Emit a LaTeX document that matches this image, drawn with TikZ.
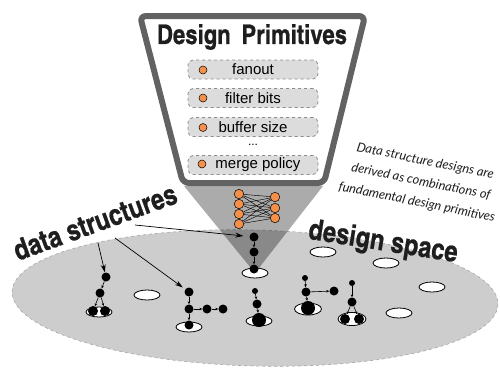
\documentclass[tikz,border=0pt]{standalone}
\usepackage{fontspec}
\setmainfont{Liberation Sans}
\newfontfamily\condbold{texgyreheroscn-bold.otf}[FakeBold=0.7]
\newfontfamily\handfont{Lato}
\usetikzlibrary{arrows.meta,shapes.geometric}
\definecolor{funnelgray}{HTML}{626262}
\definecolor{boxfill}{HTML}{DCDCDC}
\definecolor{boxline}{HTML}{8C8C8C}
\definecolor{orangec}{HTML}{F5904A}
\definecolor{spacefill}{HTML}{CDCDCD}
\definecolor{textdark}{HTML}{1E1E1E}
\begin{document}
\begin{tikzpicture}[x=1pt,y=-1pt,
  dsnode/.style={circle,fill=black,inner sep=0pt,minimum size=9pt},
  smallnode/.style={circle,fill=black,inner sep=0pt,minimum size=6pt},
  bignode/.style={circle,fill=black,inner sep=0pt,minimum size=14pt},
  hole/.style={ellipse,draw=black,fill=white,line width=0.8pt,inner sep=0pt,minimum width=26pt,minimum height=10pt},
  onode/.style={circle,draw=black,fill=orangec,line width=0.5pt,inner sep=0pt,minimum size=9.5pt},
  primbox/.style={draw=boxline,dashed,fill=boxfill,rounded corners=5pt,line width=0.8pt,minimum width=130pt,minimum height=19pt,inner sep=0pt},
  primtext/.style={font=\fontsize{15}{17}\selectfont,text=black,inner sep=0pt},
  bigtitle/.style={font=\condbold\fontsize{29}{32}\selectfont,text=textdark,inner sep=0pt},
  conn/.style={-{Stealth[length=3pt,width=2.6pt]},line width=0.6pt},
  bigarrow/.style={-{Stealth[length=8pt,width=5pt]},line width=0.7pt},
  nnedge/.style={line width=0.45pt}]
\useasboundingbox (0,0) rectangle (500,368);

% design space
\draw[dashed,draw=black!35,fill=spacefill,line width=0.6pt,rotate around={-1.5:(255,298)}] (255,298) ellipse[x radius=243, y radius=68];

% cone
\fill[black,opacity=0.33] (184,186) -- (323,186) -- (255,273) -- cycle;

% funnel
\draw[draw=funnelgray,fill=white,line width=6pt,rounded corners=6pt] (140,16) -- (365,16) -- (324,183) -- (183,183) -- cycle;

\node[font=\condbold\fontsize{27}{30}\selectfont,text=textdark,inner sep=0pt] (title) at (252,37) {Design\, Primitives};

\node[primbox] (b1) at (253,69.5) {};
\node[primbox] (b2) at (253,98) {};
\node[primbox] (b3) at (253,127) {};
\node[primbox] (b4) at (253,165) {};
\node[onode,minimum size=8pt] (o1) at (203,70) {};
\node[onode,minimum size=8pt] (o2) at (203,98) {};
\node[onode,minimum size=8pt] (o3) at (203,127.5) {};
\node[onode,minimum size=8pt] (o4) at (202,164) {};
\node[primtext] (t1) at (253,69.5) {fanout};
\node[primtext] (t2) at (253,98) {filter bits};
\node[primtext] (t3) at (253,127) {buffer size};
\node[primtext] (t4) at (258,165) {merge policy};
\node[font=\fontsize{12}{12}\selectfont,inner sep=0pt] (dots) at (253,145) {...};

% neural net
\node[onode] (l1) at (239,194) {};
\node[onode] (l2) at (239,204) {};
\node[onode] (l3) at (239,214) {};
\node[onode] (l4) at (239,224) {};
\node[onode] (r1) at (275,197) {};
\node[onode] (r2) at (275,208) {};
\node[onode] (r3) at (275,218) {};
\foreach \l in {l1,l2,l3,l4}{\foreach \r in {r1,r2,r3}{\draw[nnedge] (\l) -- (\r);}}

% free design points
\node[hole] (h1) at (147,295) {};
\node[hole] (h2) at (323,252) {};
\node[hole] (h3) at (386,263) {};
\node[hole] (h4) at (432,287) {};
\node[hole] (h5) at (399,313) {};

% base ellipses
\node[hole] (e0) at (255,273) {};
\node[hole] (e1) at (99,312) {};
\node[hole] (e2) at (189,327) {};
\node[hole] (e3) at (259,321) {};
\node[hole,minimum width=27pt,minimum height=12pt] (e4) at (308,309) {};
\node[hole,minimum width=28pt,minimum height=13pt] (e5) at (352,319) {};

% cone structure
\node[dsnode] (c1) at (254,237) {};
\node[dsnode] (c2) at (254,252) {};
\node[dsnode] (c3) at (254,269) {};
\draw[conn] (c1) -- (c2);
\draw[conn] (c2) -- (c3);

% structure 1
\node[dsnode] (s1a) at (106,277) {};
\node[dsnode] (s1b) at (100,293) {};
\node[dsnode,minimum size=10pt] (s1c) at (93,311) {};
\node[dsnode,minimum size=10pt] (s1d) at (105,311) {};
\draw[conn] (s1a) -- (s1b);
\draw[conn] (s1b) -- (s1c);
\draw[conn] (s1b) -- (s1d);

% structure 2
\node[dsnode] (s2a) at (189,292) {};
\node[dsnode] (s2b) at (189,309) {};
\node[dsnode] (s2c) at (207,309) {};
\node[dsnode] (s2d) at (223,309) {};
\node[dsnode] (s2e) at (189,325) {};
\draw[conn] (s2a) -- (s2b);
\draw[conn] (s2b) -- (s2c);
\draw[conn] (s2c) -- (s2d);
\draw[conn] (s2b) -- (s2e);

% structure 3
\node[smallnode] (s3a) at (255,291) {};
\node[dsnode] (s3b) at (257,304) {};
\node[bignode] (s3c) at (259,320) {};
\draw[conn] (s3a) -- (s3b);
\draw[conn] (s3b) -- (s3c);

% structure 4
\node[smallnode] (s4a) at (305,278) {};
\node[dsnode] (s4b) at (306,292) {};
\node[dsnode] (s4c) at (334,291) {};
\node[bignode] (s4d) at (308,308) {};
\draw[conn] (s4a) -- (s4b);
\draw[conn] (s4b) -- (s4c);
\draw[conn] (s4b) -- (s4d);

% structure 5
\node[smallnode] (s5a) at (352,283) {};
\node[dsnode] (s5b) at (352,302) {};
\node[dsnode,minimum size=10pt] (s5c) at (345,319) {};
\node[dsnode,minimum size=10pt] (s5d) at (359,319) {};
\draw[conn] (s5a) -- (s5b);
\draw[conn] (s5b) -- (s5c);
\draw[conn] (s5b) -- (s5d);

% labels
\node[bigtitle,rotate=20] (dslabel) at (95,222) {data structures};
\node[bigtitle,rotate=-9] (spacelabel) at (383,243) {design space};
\node[font=\handfont\itshape\fontsize{12.8}{21}\selectfont,text=textdark,align=center,rotate=-11.5,inner sep=0pt] (note) at (421,182) {Data structure designs are\\derived as combinations of\\fundamental design primitives};

% arrows from label
\coordinate (a1) at (98,243);
\coordinate (a2) at (115,238);
\coordinate (a3) at (135,225);
\draw[bigarrow] (a1) -- (s1a);
\draw[bigarrow,shorten >=3pt] (a2) -- (s2a);
\draw[bigarrow,shorten >=6pt] (a3) -- (c1);
\end{tikzpicture}
\end{document}
